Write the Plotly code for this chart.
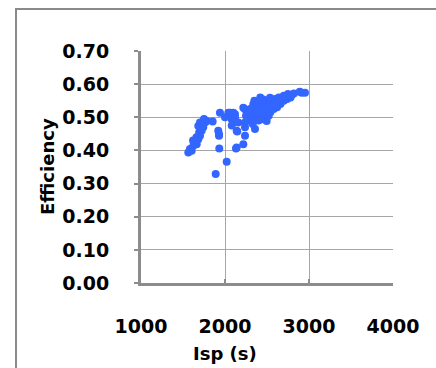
import plotly.graph_objects as go

isp = [1563, 1583, 1603, 1623, 1643, 1663, 1682, 1702, 1692, 1722, 1682, 1741, 1722, 1762, 1782, 1702, 1750, 1853, 1660, 1620,
       1889, 2020, 1932, 1920, 1929, 1929, 1940, 2040, 2060, 2099, 2119, 2060, 2079, 2099, 2119, 2139, 2131, 2139, 2218, 2238,
       2146, 2238, 2238, 2158, 2238, 2218, 2000, 2080,
       2357, 2280, 2300, 2320, 2340, 2360, 2380, 2400, 2337, 2377, 2417, 2456, 2496, 2536, 2556, 2595, 2635, 2675, 2734, 2794,
       2913, 2952, 2890, 2377, 2417, 2456, 2496, 2330, 2360, 2400, 2440, 2480, 2520, 2560, 2600, 2640, 2700, 2750, 2820, 2420,
       2460, 2500, 2540, 2580, 2620, 2660, 2700, 2740, 2780, 2520, 2480, 2440, 2400, 2300, 2270, 2250, 2350, 2420, 2560, 2600]
efficiency = [0.394, 0.404, 0.399, 0.414, 0.424, 0.419, 0.434, 0.444, 0.454, 0.459, 0.474, 0.470, 0.474, 0.484, 0.489, 0.484, 0.495, 0.487, 0.440, 0.430,
              0.329, 0.366, 0.406, 0.459, 0.449, 0.444, 0.514, 0.514, 0.514, 0.514, 0.509, 0.504, 0.494, 0.484, 0.499, 0.459, 0.406, 0.409, 0.419, 0.444,
              0.457, 0.484, 0.470, 0.484, 0.524, 0.529, 0.500, 0.475,
              0.465, 0.490, 0.500, 0.510, 0.520, 0.530, 0.540, 0.545, 0.539, 0.544, 0.549, 0.554, 0.549, 0.559, 0.539, 0.544, 0.549, 0.559, 0.564, 0.567,
              0.574, 0.574, 0.577, 0.504, 0.499, 0.494, 0.489, 0.480, 0.495, 0.515, 0.525, 0.535, 0.540, 0.548, 0.555, 0.560, 0.565, 0.570, 0.572, 0.530,
              0.540, 0.520, 0.515, 0.525, 0.530, 0.540, 0.550, 0.555, 0.560, 0.505, 0.510, 0.505, 0.490, 0.525, 0.515, 0.505, 0.550, 0.560, 0.530, 0.538]

x_ticks = [1000, 2000, 3000, 4000]
y_ticks = [0.0, 0.1, 0.2, 0.3, 0.4, 0.5, 0.6, 0.7]
y_ticklabels = ["0.00", "0.10", "0.20", "0.30", "0.40", "0.50", "0.60", "0.70"]

font_family = "DejaVu Sans"
fig = go.Figure()
fig.add_trace(go.Scatter(
    x=isp, y=efficiency, mode="markers",
    marker=dict(size=8, color="#3366FF", line=dict(width=0)),
    showlegend=False,
))

fig.update_layout(
    width=436, height=368,
    margin=dict(l=141, r=43, t=51, b=85),
    paper_bgcolor="white", plot_bgcolor="white",
    font=dict(family=font_family, color="black"),
    xaxis=dict(
        range=[1000, 4000], tickvals=x_ticks, ticktext=[str(v) for v in x_ticks],
        showgrid=True, gridcolor="#a6a6a6", gridwidth=1,
        showline=True, linecolor="#8c8c8c", linewidth=3,
        ticks="inside", ticklen=4, tickwidth=2, tickcolor="#8c8c8c",
        tickfont=dict(family=font_family, size=19, color="black", weight="bold"),
        ticklabelstandoff=24, zeroline=False, fixedrange=True, automargin=False,
    ),
    yaxis=dict(
        range=[0, 0.7], tickvals=y_ticks, ticktext=y_ticklabels,
        showgrid=True, gridcolor="#a6a6a6", gridwidth=1,
        showline=True, linecolor="#8c8c8c", linewidth=3,
        ticks="outside", ticklen=4, tickwidth=2, tickcolor="#8c8c8c",
        tickfont=dict(family=font_family, size=19, color="black", weight="bold"),
        ticklabelstandoff=21, zeroline=False, fixedrange=True, automargin=False,
    ),
    shapes=[
        dict(type="rect", xref="paper", yref="paper",
             x0=-0.496, y0=-0.6, x1=1.4, y1=1.181,
             line=dict(color="#8a8a8a", width=2), fillcolor="rgba(0,0,0,0)", layer="below"),
    ],
    annotations=[
        dict(text="Efficiency", xref="paper", yref="paper", x=(47 - 141) / 252, y=0.5,
             textangle=-90, showarrow=False, xanchor="center", yanchor="middle",
             font=dict(family=font_family, size=18, color="black", weight="bold")),
        dict(text="Isp (s)", xref="paper", yref="paper", x=(225 - 141) / 252, y=(283 - 353) / 232,
             showarrow=False, xanchor="center", yanchor="middle",
             font=dict(family=font_family, size=18, color="black", weight="bold")),
    ],
)

fig.write_html(
    "out.html",
    config={"displayModeBar": False},
    post_script="document.body.style.margin='0';document.body.style.overflow='hidden';",
)
